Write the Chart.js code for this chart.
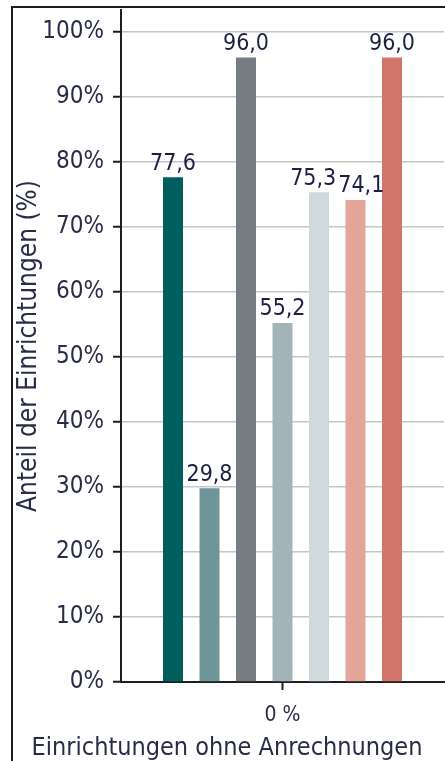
<!DOCTYPE html>
<html lang="de">
<head>
<meta charset="utf-8">
<title>Anteil der Einrichtungen</title>
<script src="https://cdn.jsdelivr.net/npm/chart.js@4.4.1/dist/chart.umd.min.js"></script>
<style>
    html, body { margin: 0; padding: 0; background: #fff; }
    #wrap { position: relative; width: 445px; height: 761px; overflow: hidden; }
    /* frame lines on the left and top */
    #frame {
        position: absolute; left: 11px; top: 6px; width: 460px; height: 800px;
        border-left: 2px solid #1e1e1e; border-top: 2px solid #1e1e1e;
    }
    #chart { position: absolute; left: 0; top: 0; }
</style>
</head>
<body>
<div id="wrap">
    <div id="frame"></div>
    <canvas id="chart" width="445" height="761"></canvas>
</div>
<script>
// --- Data ---
const categories = ['0 %'];
const seriesNames = ['Gruppe 1', 'Gruppe 2', 'Gruppe 3', 'Gruppe 4', 'Gruppe 5', 'Gruppe 6', 'Gruppe 7'];
const seriesValues = [77.6, 29.8, 96.0, 55.2, 75.3, 74.1, 96.0];
const seriesColors = ['#005e5e', '#6e9597', '#757d82', '#a2b4b7', '#d0d9dc', '#e3a598', '#d2766b'];
const yTicks = [0, 10, 20, 30, 40, 50, 60, 70, 80, 90, 100];

const FONT_FAMILY = "'DejaVu Sans Condensed', 'Roboto', sans-serif";
const TEXT_COLOR = '#292c47';

// --- Helpers ---
const formatDecimal = (num) => (Number(num) || 0).toFixed(1).replace('.', ',');

// Value labels above each bar; neighbours that would collide are pushed apart
const valueLabels = {
    id: 'valueLabels',
    afterDatasetsDraw(chart) {
        const ctx = chart.ctx;
        const labelHeight = 18;
        ctx.save();
        ctx.font = `23px ${FONT_FAMILY}`;
        ctx.fillStyle = '#1d2040';
        ctx.textAlign = 'center';
        ctx.textBaseline = 'bottom';

        const items = [];
        chart.data.datasets.forEach((ds, i) => {
            chart.getDatasetMeta(i).data.forEach((bar, j) => {
                const text = formatDecimal(ds.data[j]);
                items.push({ text, x: bar.x, y: bar.y - 2, w: ctx.measureText(text).width });
            });
        });
        items.sort((a, b) => a.x - b.x);

        for (let k = 1; k < items.length; k++) {
            const a = items[k - 1];
            const b = items[k];
            const overlapX = (a.x + a.w / 2 + 2) - (b.x - b.w / 2);
            const overlapY = Math.abs(a.y - b.y) < labelHeight;
            if (overlapX > 0 && overlapY) {
                a.x -= overlapX / 2;
                b.x += overlapX / 2;
            }
        }

        items.forEach(it => ctx.fillText(it.text, it.x, it.y));
        ctx.restore();
    }
};

Chart.defaults.font.family = FONT_FAMILY;
Chart.defaults.color = TEXT_COLOR;

const datasets = seriesNames.map((name, i) => ({
    label: name,
    data: [seriesValues[i]],
    backgroundColor: seriesColors[i],
    borderWidth: 0,
    categoryPercentage: 0.791,
    barPercentage: 0.548,
}));

new Chart(document.getElementById('chart'), {
    type: 'bar',
    data: { labels: categories, datasets },
    plugins: [valueLabels],
    options: {
        responsive: false,
        animation: false,
        devicePixelRatio: 1,
        layout: { padding: { left: 10, top: 10, right: 1, bottom: 0 } },
        plugins: {
            legend: { display: false },
            tooltip: { enabled: false },
            title: {
                display: true,
                position: 'bottom',
                text: 'Einrichtungen ohne Anrechnungen',
                color: TEXT_COLOR,
                font: { size: 25, weight: 'normal' },
                padding: { top: 0, bottom: -2 },
            },
        },
        scales: {
            x: {
                afterFit: (scale) => {
                    scale.height = 51;
                    scale.paddingLeft = 0;
                    scale.paddingRight = 0;
                },
                grid: {
                    offset: false,
                    drawOnChartArea: false,
                    drawTicks: true,
                    tickLength: 8,
                    tickColor: '#1e1e1e',
                    tickWidth: 2,
                },
                border: { color: '#1e1e1e', width: 2 },
                ticks: { padding: 13, color: TEXT_COLOR, font: { size: 21 } },
            },
            y: {
                min: 0,
                max: 103.3,
                afterFit: (scale) => {
                    scale.width = 111;
                    scale.paddingTop = 0;
                    scale.paddingBottom = 0;
                },
                afterBuildTicks: (scale) => {
                    scale.ticks = yTicks.map(v => ({ value: v }));
                },
                grid: {
                    color: '#c6c6c6',
                    lineWidth: 1.5,
                    tickLength: 8,
                    tickColor: '#1e1e1e',
                    tickWidth: 2,
                },
                border: { color: '#1e1e1e', width: 2 },
                ticks: {
                    padding: 9,
                    color: TEXT_COLOR,
                    font: { size: 24 },
                    callback: (v) => `${v}%`,
                },
                title: {
                    display: true,
                    text: 'Anteil der Einrichtungen (%)',
                    color: TEXT_COLOR,
                    font: { size: 26 },
                    padding: { top: 4, bottom: 0 },
                },
            },
        },
    },
});
</script>
</body>
</html>
